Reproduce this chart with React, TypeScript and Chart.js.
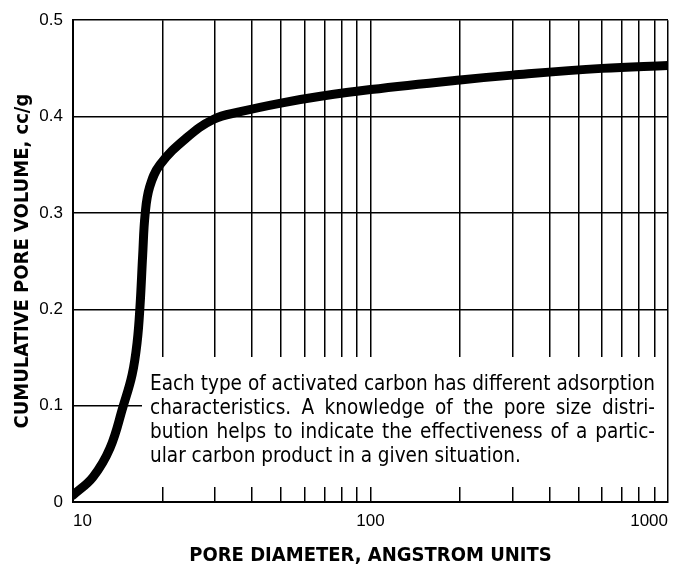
import React, { useEffect, useRef } from "react";
import { Chart, registerables } from "chart.js";

Chart.register(...registerables);

// Pore diameter (Angstrom) and cumulative pore volume (cc/g)
const poreDiameter = [10, 11.68, 13.32, 14.73, 15.8, 16.43, 16.81, 17.14, 17.48, 18.1, 19.6, 24.1, 29.6, 36.5, 50, 68, 100, 200, 300, 600, 1000];
const poreVolume = [0.007, 0.026, 0.056, 0.099, 0.132, 0.166, 0.205, 0.255, 0.299, 0.327, 0.35, 0.378, 0.397, 0.405, 0.414, 0.421, 0.428, 0.438, 0.443, 0.45, 0.453];

const xGridTicks = [10, 20, 30, 40, 50, 60, 70, 80, 90, 100, 200, 300, 400, 500, 600, 700, 800, 900, 1000];
const xLabelled = [10, 100, 1000];
const yTicks = [0, 0.1, 0.2, 0.3, 0.4, 0.5];

const noteLines = [
  "Each type of activated carbon has different adsorption",
  "characteristics. A knowledge of the pore size distri-",
  "bution helps to indicate the effectiveness of a partic-",
  "ular carbon product in a given situation.",
];

const FONT = "'Liberation Sans', Arial, Helvetica, sans-serif";
const NARROW = "'Liberation Sans Narrow', 'DejaVu Sans Condensed', 'Liberation Sans', sans-serif";

const notePlugin = {
  id: "note",
  beforeDraw(chart: any) {
    const ctx = chart.ctx;
    ctx.save();
    ctx.fillStyle = "#fff";
    ctx.fillRect(0, 0, chart.width, chart.height);
    ctx.restore();
  },
  afterDatasetsDraw(chart: any) {
    const ctx = chart.ctx;
    const area = chart.chartArea;
    const boxLeft = 142;
    const boxTop = 357;
    const boxBottom = 487;
    ctx.save();
    ctx.fillStyle = "#fff";
    ctx.fillRect(boxLeft, boxTop, area.right - 1 - boxLeft, boxBottom - boxTop);
    const textLeft = 150;
    const textWidth = 505;
    ctx.font = `18px ${NARROW}`;
    const w0 = ctx.measureText(noteLines[0]).width;
    const size = (18 * textWidth) / w0;
    ctx.font = `${size}px ${NARROW}`;
    ctx.fillStyle = "#000";
    ctx.textBaseline = "middle";
    ctx.textAlign = "left";
    const firstY = 385;
    const step = 23.8;
    noteLines.forEach((line, i) => {
      const y = firstY + i * step;
      if (i === noteLines.length - 1) {
        ctx.fillText(line, textLeft, y);
        return;
      }
      const words = line.split(" ");
      const wordsWidth = words.reduce((s, wd) => s + ctx.measureText(wd).width, 0);
      const gap = (textWidth - wordsWidth) / (words.length - 1);
      let x = textLeft;
      words.forEach((wd) => {
        ctx.fillText(wd, x, y);
        x += ctx.measureText(wd).width + gap;
      });
    });
    ctx.restore();
  },
};

export default function App() {
  const canvasRef = useRef<HTMLCanvasElement | null>(null);

  useEffect(() => {
    const canvas = canvasRef.current;
    if (!canvas) return;
    const chart = new Chart(canvas, {
      type: "line",
      data: {
        datasets: [
          {
            data: poreDiameter.map((d, i) => ({ x: d, y: poreVolume[i] })),
            borderColor: "#000",
            borderWidth: 9,
            pointRadius: 0,
            tension: 0.4,
            fill: false,
            borderCapStyle: "round",
            borderJoinStyle: "round",
          },
        ],
      },
      options: {
        responsive: false,
        animation: false,
        devicePixelRatio: 1,
        layout: { padding: { top: 14, right: 31, left: 0, bottom: 0 } },
        plugins: { legend: { display: false }, tooltip: { enabled: false } },
        scales: {
          x: {
            type: "logarithmic",
            min: 10,
            max: 1000,
            afterBuildTicks: (scale: any) => {
              scale.ticks = xGridTicks.map((v) => ({ value: v }));
            },
            afterFit: (scale: any) => {
              scale.height = 64;
            },
            ticks: {
              autoSkip: false,
              maxRotation: 0,
              align: "inner",
              padding: 9,
              color: "#000",
              font: { family: FONT, size: 17 },
              callback: (v: any) => (xLabelled.includes(Number(v)) ? String(v) : ""),
            },
            grid: { color: "#000", lineWidth: 1.5, drawTicks: false },
            border: { color: "#000", width: 2 },
            title: {
              display: true,
              text: "PORE DIAMETER, ANGSTROM UNITS",
              color: "#000",
              font: { family: NARROW, size: 20, weight: "bold" },
              padding: { top: 0, bottom: -2 },
            },
          },
          y: {
            type: "linear",
            min: 0,
            max: 0.5,
            afterBuildTicks: (scale: any) => {
              scale.ticks = yTicks.map((v) => ({ value: v }));
            },
            afterFit: (scale: any) => {
              scale.width = 73;
            },
            ticks: {
              padding: 10,
              color: "#000",
              font: { family: FONT, size: 17 },
              callback: (v: any) => (Number(v) === 0 ? "0" : Number(v).toFixed(1)),
            },
            grid: { color: "#000", lineWidth: 1.5, drawTicks: false },
            border: { color: "#000", width: 2 },
            title: {
              display: true,
              text: "CUMULATIVE PORE VOLUME, cc/g",
              color: "#000",
              font: { family: NARROW, size: 20, weight: "bold" },
              padding: { top: 11, bottom: 0 },
            },
          },
        },
      },
      plugins: [notePlugin],
    } as any);
    return () => chart.destroy();
  }, []);

  return (
    <div style={{ position: "fixed", left: 0, top: 0, width: 699, height: 566, background: "#fff" }}>
      <canvas ref={canvasRef} width={699} height={566} style={{ display: "block" }} />
    </div>
  );
}
